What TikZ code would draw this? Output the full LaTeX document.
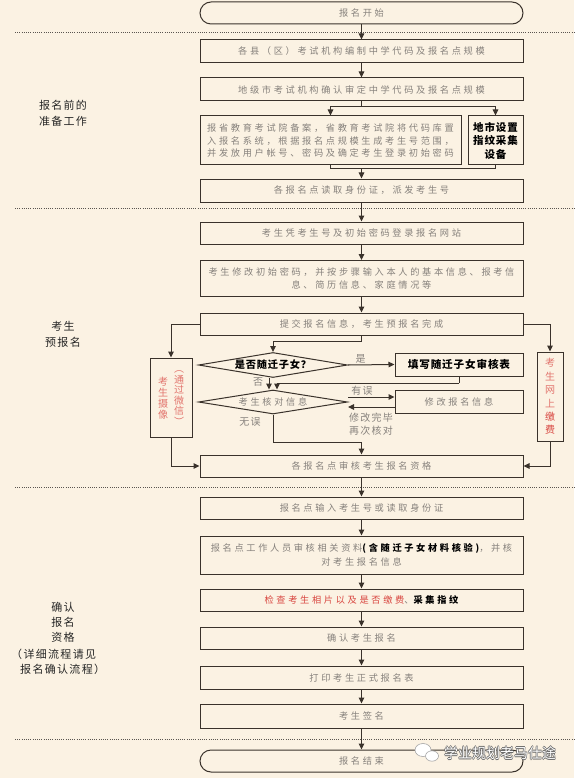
\documentclass[tikz,border=0pt]{standalone}
\usepackage{fontspec}
\usetikzlibrary{arrows.meta,shapes.geometric}
\setmainfont{Noto Sans CJK SC}
\newfontfamily\bxf[LetterSpace=29]{Noto Sans CJK SC}
\newfontfamily\bdf[LetterSpace=8]{Noto Sans CJK SC}
\newfontfamily\lbf[LetterSpace=12]{Noto Sans CJK SC}
\newfontfamily\plf{Noto Sans CJK SC}
\definecolor{bg}{HTML}{FBF2E3}
\definecolor{lnc}{HTML}{3A322B}
\definecolor{txc}{HTML}{86817C}
\definecolor{rdc}{HTML}{D8453F}
\definecolor{ltr}{HTML}{E2746D}
\definecolor{dotc}{HTML}{5A5550}
\begin{document}
\begin{tikzpicture}[x=1pt,y=-1pt,
  box/.style={draw=lnc, line width=1pt, inner sep=0pt, text=txc, align=center,
    font=\fontsize{9.2}{13}\selectfont\bxf, minimum width=323pt, minimum height=23pt},
  term/.style={box, rounded corners=11pt, minimum height=22pt},
  wire/.style={draw=lnc, line width=1pt},
  arr/.style={wire, -{Triangle[length=6pt,width=5.5pt]}},
  dec/.style={draw=lnc, line width=1pt, diamond, aspect=6, inner sep=0pt,
    minimum width=149pt, minimum height=25pt, align=center},
  lab/.style={inner sep=1pt, text=txc, font=\fontsize{10}{13}\selectfont\lbf, align=center},
  sec/.style={text=black!85, font=\fontsize{11}{16}\selectfont\lbf, align=center, inner sep=0pt},
  vtxt/.style={inner sep=0pt, align=center},
  dotline/.style={draw=dotc, line width=0.9pt, dash pattern=on 0.9pt off 1.3pt},
]
\fill[bg] (0,0) rectangle (574,778);
\useasboundingbox (0,0) rectangle (574,778);

% separators
\foreach \yy in {32,208,487,739} \draw[dotline] (15,\yy) -- (574,\yy);

% section labels
\node (s1) [sec] at (63,113) {报名前的\\准备工作};
\node (s2) [sec] at (63,334) {考生\\预报名};
\node (s3) [sec, font=\fontsize{11}{15}\selectfont\lbf] at (63,622) {确认\\报名\\资格};
\node (s4) [sec, anchor=west] at (11,654) {（详细流程请见};
\node (s5) [sec, anchor=west] at (20,669) {报名确认流程）};

% main boxes
\node (start) [term] at (361.5,13) {报名开始};
\node (b1) [box] at (361.5,51.5) {各县（区）考试机构编制中学代码及报名点规模};
\node (b2) [box] at (361.5,89.5) {地级市考试机构确认审定中学代码及报名点规模};
\node (b3) [box, minimum width=261pt, minimum height=49pt, align=left,
  font=\fontsize{9.2}{12.5}\selectfont\bxf] at (330.5,140.5)
  {报省教育考试院备案，省教育考试院将代码库置\\入报名系统，根据报名点规模生成考生号范围，\\并发放用户帐号、密码及确定考生登录初始密码};
\node (b3s) [box, minimum width=55pt, minimum height=49pt, text=black,
  font=\fontsize{10.5}{13.5}\selectfont\bdf\bfseries] at (495.5,140.5) {地市设置\\指纹采集\\设备};
\node (b4) [box] at (361.5,190.5) {各报名点读取身份证，派发考生号};
\node (b5) [box, minimum height=22pt] at (361.5,233) {考生凭考生号及初始密码登录报名网站};
\node (b6) [box, minimum height=36pt] at (361.5,278.5)
  {考生修改初始密码，并按步骤输入本人的基本信息、报考信\\息、简历信息、家庭情况等};
\node (b7) [box, minimum height=22pt] at (361.5,324) {提交报名信息，考生预报名完成};

% side boxes
\node (L) [box, minimum width=42pt, minimum height=79pt] at (171,397.5) {};
\node (Lt1) [vtxt, text=ltr, font=\fontsize{10}{11}\selectfont\plf] at (163,398) {考\\生\\摄\\像};
\node (Lt2) [vtxt, text=ltr, font=\fontsize{10}{10.6}\selectfont\plf] at (179,398) {︵\\通\\过\\微\\信\\︶};
\node (R) [box, minimum width=26pt, minimum height=89pt,
  font=\fontsize{10}{13.4}\selectfont\plf] at (550,396.5)
  {\textcolor{ltr}{考}\\\textcolor{ltr}{生}\\\textcolor{ltr}{网}\\\textcolor{ltr}{上}\\\textcolor{rdc}{缴}\\\textcolor{rdc}{费}};

% decisions
\node (d1) [dec, text=black, font=\fontsize{10.2}{12}\selectfont\bdf\bfseries] at (273,365) {是否随迁子女？};
\node (F) [box, minimum width=128pt, text=black,
  font=\fontsize{10.6}{12}\selectfont\bdf\bfseries] at (459,364.5) {填写随迁子女审核表};
\node (d2) [dec, minimum height=24pt, text=txc, font=\fontsize{9.2}{12}\selectfont\bxf] at (273,402) {考生核对信息};
\node (M) [box, minimum width=128pt] at (459,401.5) {修改报名信息};

\node (b8) [box, minimum height=22pt] at (361.5,466) {各报名点审核考生报名资格};
\node (b9) [box, minimum height=22pt] at (361.5,508) {报名点输入考生号或读取身份证};
\node (b10) [box, minimum height=38pt, font=\fontsize{9.2}{14}\selectfont\bxf] at (361.5,555)
  {报名点工作人员审核相关资料{\bfseries\color{black}(含随迁子女材料核验)}，并核\\对考生报名信息};
\node (b11) [box, minimum height=22pt] at (361.5,600)
  {{\color{rdc}检查考生相片以及是否缴费}、{\bfseries\color{black}采集指纹}};
\node (b12) [box, minimum height=22pt] at (361.5,638) {确认考生报名};
\node (b13) [box] at (361.5,677.5) {打印考生正式报名表};
\node (b14) [box, minimum height=24pt] at (361.5,716) {考生签名};
\node (end) [term] at (361.5,761) {报名结束};

% connectors
\draw[arr] (start) -- (b1);
\draw[arr] (b1) -- (b2);
\coordinate (sp) at (361.5,107);
\draw[wire] (b2.south) -- (sp);
\draw[arr] (sp) -| (b3.north);
\draw[arr] (sp) -| (b3s.north);
\coordinate (mg) at (361.5,169);
\draw[wire] (b3.south) |- (mg);
\draw[wire] (b3s.south) |- (mg);
\draw[arr] (mg) -- (b4);
\draw[arr] (b4) -- (b5);
\draw[arr] (b5) -- (b6);
\draw[arr] (b6) -- (b7);
\draw[arr] (b7.west) -| (L.north);
\draw[arr] (b7.east) -| (R.north);
\draw[arr] (L.south) |- (b8.west);
\draw[arr] (R.south) |- (b8.east);
\coordinate (k1) at (361.5,341);
\draw[wire] (b7.south) -- (k1);
\draw[arr] (k1) -| (d1.north);
\draw[arr] (d1.east) -- (F.west) node (yes) [lab, pos=0.27, above] {是};
\coordinate (k2) at (459,383);
\draw[wire] (F.south) -- (k2);
\draw[arr] (k2) -| ([xshift=4pt]d2.north);
\draw[arr] ([xshift=-4pt]d1.south) -- ([xshift=-4pt]d2.north);
\node (no) [lab] at (258,382) {否};
\coordinate (e1) at ([yshift=5pt]d2.east);
\coordinate (e2) at ([yshift=-5pt]d2.east);
\draw[arr] (e1) -- (e1 -| M.west) node (err) [lab, pos=0.3, above] {有误};
\draw[arr] (e2 -| M.west) -- (e2);
\node (fix) [lab] at (371,424) {修改完毕\\再次核对};
\node (okl) [lab] at (250,422) {无误};
\coordinate (k3) at (273,442);
\draw[wire] (d2.south) -- (k3);
\draw[arr] (k3) -| (b8.north);
\draw[arr] (b8) -- (b9);
\draw[arr] (b9) -- (b10);
\draw[arr] (b10) -- (b11);
\draw[arr] (b11) -- (b12);
\draw[arr] (b12) -- (b13);
\draw[arr] (b13) -- (b14);
\draw[arr] (b14) -- (end);

% watermark
\draw[gray!70, fill=white, line width=0.6pt] (423,750) ellipse (8 and 6.5);
\draw[gray!70, fill=white, line width=0.6pt] (432,756) ellipse (6.5 and 5.2);
\foreach \dx/\dy [count=\i] in {0.7/0, -0.7/0, 0/0.7, 0/-0.7}
  \node (wms\i) [text=gray!80!black, font=\fontsize{14}{14}\selectfont\plf, inner sep=0pt]
    at (500+\dx,753+\dy) {学业规划老马仕途};
\node (wm) [text=white, font=\fontsize{14}{14}\selectfont\plf, inner sep=0pt] at (500,753) {学业规划老马仕途};
\end{tikzpicture}
\end{document}
